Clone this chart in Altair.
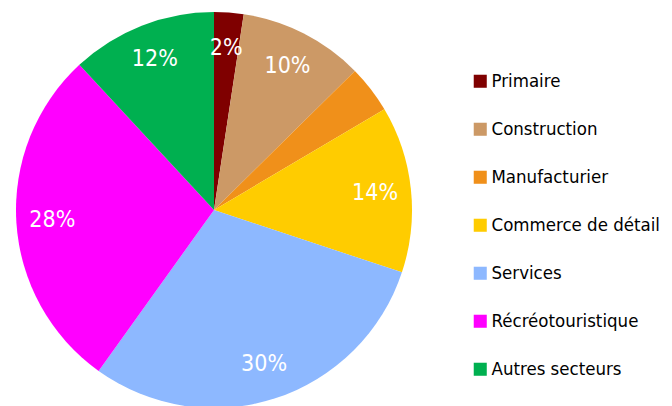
import altair as alt
import pandas as pd

sectors = ["Primaire", "Construction", "Manufacturier", "Commerce de détail",
           "Services", "Récréotouristique", "Autres secteurs"]
shares = [2.4, 10.2, 3.9, 13.6, 29.8, 28.2, 11.9]
labels = ["2%", "10%", "", "14%", "30%", "28%", "12%"]
colors = ["#7F0000", "#CC9966", "#F0901A", "#FFCC00", "#8DB8FF", "#FF00FF", "#00B050"]

df = pd.DataFrame({"secteur": sectors, "part": shares, "label": labels,
                   "ordre": list(range(len(sectors)))})

FONT = "'Liberation Sans Narrow', 'DejaVu Sans Condensed', 'Roboto Condensed', 'Liberation Sans', sans-serif"

base = alt.Chart(df).encode(
    theta=alt.Theta("part:Q", stack=True),
    order=alt.Order("ordre:Q"),
)

pie = base.mark_arc(outerRadius=198).encode(
    color=alt.Color("secteur:N", sort=sectors,
                    scale=alt.Scale(domain=sectors, range=colors),
                    legend=alt.Legend(title=None, orient="none", legendX=455, legendY=58,
                                      symbolType="square", symbolSize=170,
                                      symbolStrokeWidth=0,
                                      labelFont=FONT, labelFontSize=18.5,
                                      labelColor="#000000", rowPadding=29,
                                      labelOffset=2, labelLimit=300)),
)
text = base.mark_text(radius=162, fontSize=23, font=FONT).encode(
    text="label:N", color=alt.value("white"))

chart = (pie + text).properties(
    width=396, height=392,
    autosize=alt.AutoSizeParams(type="none"),
    padding={"left": 8, "top": 6, "right": 252, "bottom": 0},
).configure_view(stroke=None)

chart.save("out.html", embed_options={"renderer": "svg", "actions": False})
